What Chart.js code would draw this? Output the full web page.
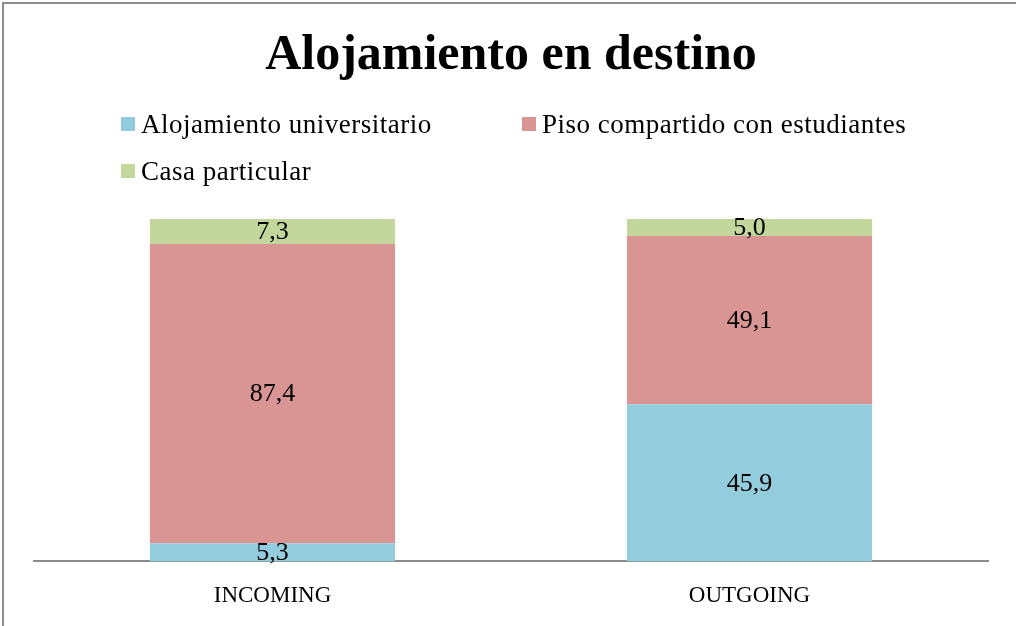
<!DOCTYPE html>
<html>
<head>
<meta charset="utf-8">
<script src="https://cdn.jsdelivr.net/npm/chart.js@4"></script>
<style>
  html, body { margin: 0; padding: 0; background: #fff; }
  #wrap { position: relative; width: 1016px; height: 626px; overflow: hidden; }
  #frame { position: absolute; left: 2px; top: 2px; width: 1100px; height: 700px;
           border-left: 2px solid #8c8c8c; border-top: 2px solid #8c8c8c; }
  #legend { position: absolute; left: 0; top: 0; width: 1016px; height: 200px;
            font-family: "Liberation Serif", serif; font-size: 27px; letter-spacing: 0.5px; color: #000; }
  .item { position: absolute; display: flex; align-items: center; white-space: nowrap; }
  .box { width: 14px; height: 14px; margin-right: 6px; }
  canvas { position: absolute; left: 0; top: 0; }
</style>
</head>
<body>
<div id="wrap">
  <div id="frame"></div>
  <canvas id="chart" width="1016" height="650"></canvas>
  <div id="legend"></div>
</div>
<script>
const categories = ['INCOMING', 'OUTGOING'];
const seriesNames = ['Alojamiento universitario', 'Piso compartido con estudiantes', 'Casa particular'];
const universitario = [5.3, 45.9];
const piso = [87.4, 49.1];
const casa = [7.3, 5.0];
const colors = ['#93CDDD', '#D99594', '#C3D69B'];

const FONT = '"Liberation Serif", serif';

const valueLabels = {
  id: 'valueLabels',
  afterDatasetsDraw(chart) {
    const ctx = chart.ctx;
    ctx.save();
    ctx.font = '26px ' + FONT;
    ctx.fillStyle = '#000';
    ctx.textAlign = 'center';
    ctx.textBaseline = 'middle';
    chart.data.datasets.forEach((ds, i) => {
      chart.getDatasetMeta(i).data.forEach((bar, j) => {
        const p = bar.getProps(['x', 'y', 'base'], true);
        const txt = ds.data[j].toFixed(1).replace('.', ',');
        ctx.fillText(txt, p.x, (p.y + p.base) / 2 + 1);
      });
    });
    ctx.restore();
  }
};

const chart = new Chart(document.getElementById('chart'), {
  type: 'bar',
  data: {
    labels: categories,
    datasets: [
      { label: seriesNames[0], data: universitario, backgroundColor: colors[0] },
      { label: seriesNames[1], data: piso, backgroundColor: colors[1] },
      { label: seriesNames[2], data: casa, backgroundColor: colors[2] }
    ]
  },
  options: {
    responsive: false,
    animation: false,
    layout: { padding: { left: 34, right: 28, top: 0, bottom: 19 } },
    datasets: { bar: { barPercentage: 1, categoryPercentage: 0.514 } },
    scales: {
      x: {
        stacked: true,
        grid: { display: false, drawTicks: false },
        border: { display: true, color: '#8c8c8c', width: 2 },
        ticks: { color: '#000', font: { family: FONT, size: 23 }, padding: 21 }
      },
      y: { stacked: true, display: false, min: 0, max: 100 }
    },
    plugins: {
      legend: { display: false },
      tooltip: { enabled: false },
      title: {
        display: true,
        text: 'Alojamiento en destino',
        color: '#000',
        font: { family: FONT, size: 50, weight: 'bold' },
        padding: { top: 26, bottom: 133 }
      }
    }
  },
  plugins: [valueLabels]
});

// HTML legend built from the datasets
const legendPos = [[121, 124], [522, 124], [121, 171]];
const legend = document.getElementById('legend');
chart.data.datasets.forEach((ds, i) => {
  const it = document.createElement('div');
  it.className = 'item';
  it.style.left = legendPos[i][0] + 'px';
  it.style.top = (legendPos[i][1] - 16) + 'px';
  it.style.height = '32px';
  const b = document.createElement('span');
  b.className = 'box';
  b.style.background = ds.backgroundColor;
  const t = document.createElement('span');
  t.textContent = ds.label;
  it.appendChild(b);
  it.appendChild(t);
  legend.appendChild(it);
});
</script>
</body>
</html>
